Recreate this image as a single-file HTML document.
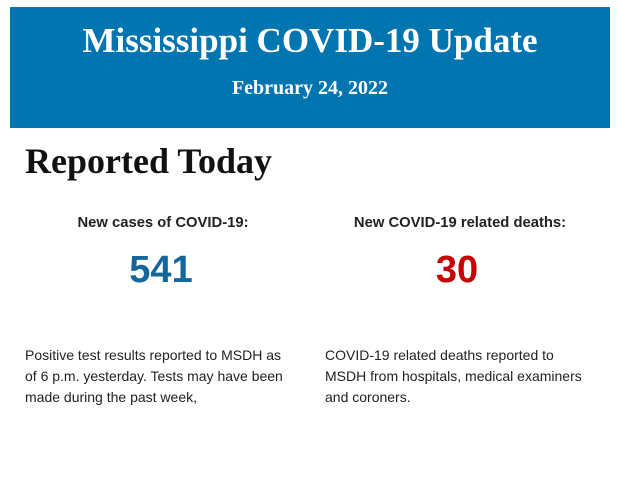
<!DOCTYPE html>
<html><head><style>
body{margin:0;width:620px;height:483px;background:#fff;position:relative;overflow:hidden}
.hdr{position:absolute;left:10px;top:7px;width:600px;height:121px;background:#0075b0;color:#fff;font-family:"Liberation Serif",serif;font-weight:bold;text-align:center}
.t{position:absolute;left:0;right:0;top:14px;font-size:35px;line-height:40px}
.d{position:absolute;left:0;right:0;top:69px;font-size:20px;line-height:24px}
.rt{position:absolute;left:25px;top:141px;font-family:"Liberation Serif",serif;font-weight:bold;font-size:36px;line-height:40px;color:#111}
.l{position:absolute;font-family:"Liberation Sans",sans-serif;font-weight:bold;font-size:14.8px;color:#222;text-align:center;width:290px;top:215px}
.n{position:absolute;font-family:"Liberation Sans",sans-serif;font-weight:bold;font-size:38px;text-align:center;width:290px;top:249px}
.p{position:absolute;font-family:"Liberation Sans",sans-serif;font-size:14px;line-height:21px;color:#222;top:345px;width:265px}
</style></head><body>
<div class="hdr"><div class="t">Mississippi COVID-19 Update</div><div class="d">February 24, 2022</div></div>
<div class="rt">Reported Today</div>
<div class="l" style="left:18px">New cases of COVID-19:</div>
<div class="l" style="left:315px">New COVID-19 related deaths:</div>
<div class="n" style="left:16px;color:#14679a">541</div>
<div class="n" style="left:312px;color:#c80000">30</div>
<div class="p" style="left:25px">Positive test results reported to MSDH as<br>of 6 p.m. yesterday. Tests may have been made during the past week,</div>
<div class="p" style="left:325px;width:270px">COVID-19 related deaths reported to<br>MSDH from hospitals, medical examiners and coroners.</div>
</body></html>
